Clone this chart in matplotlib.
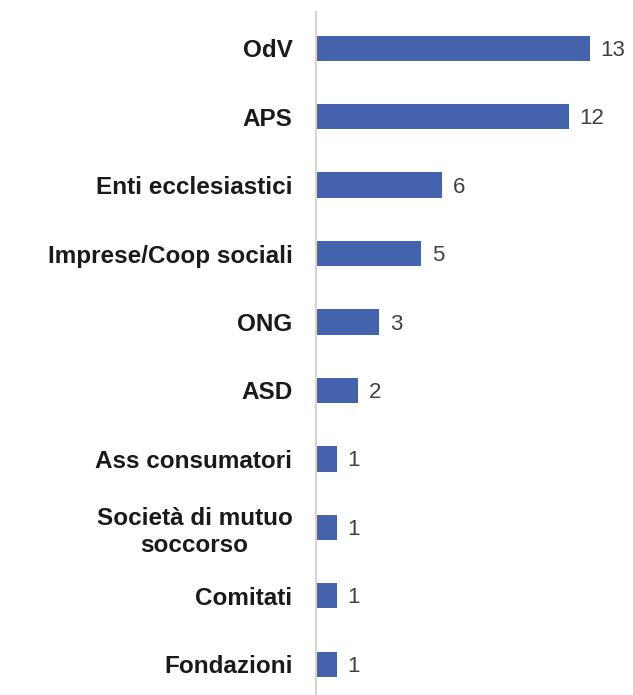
import matplotlib
matplotlib.use("Agg")
import matplotlib.pyplot as plt

categories = ["OdV", "APS", "Enti ecclesiastici", "Imprese/Coop sociali", "ONG",
              "ASD", "Ass consumatori", "Società di mutuo\nsoccorso", "Comitati", "Fondazioni"]
values = [13, 12, 6, 5, 3, 2, 1, 1, 1, 1]

plt.rcParams['font.family'] = ['Liberation Sans', 'DejaVu Sans']

fig = plt.figure(figsize=(6.33, 6.95), dpi=100)
ax = fig.add_axes([316 / 633, 0.0, 15 * 21.08 / 633, 1 - 12 / 695])

pos = list(range(len(categories)))
bars = ax.barh(pos, values, height=0.37, color="#4563ad")
ax.set_xlim(0, 15)
ax.set_ylim(9.45, -0.53)

ax.set_yticks(pos)
ax.set_yticklabels(categories, fontsize=17.5, fontweight="bold", color="#1a1a1a",
                   ha="right", multialignment="center", linespacing=1.25)
ax.tick_params(axis="y", length=0, pad=17)
ax.set_xticks([])

for s in ["top", "right", "bottom"]:
    ax.spines[s].set_visible(False)
ax.spines["left"].set_color("#d4d4d4")
ax.spines["left"].set_linewidth(1.5)

for b, v in zip(bars, values):
    ax.text(b.get_width() + 0.5, b.get_y() + b.get_height() / 2 + 0.03, str(v),
            va="center", ha="left", fontsize=16, color="#404040")

fig.savefig("out.png", dpi=100)
